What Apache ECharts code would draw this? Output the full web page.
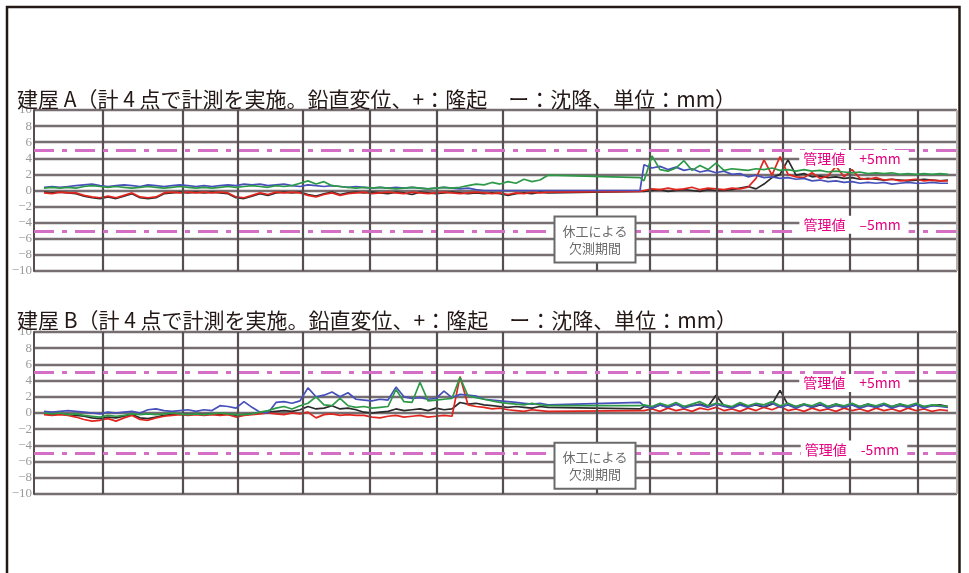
<!DOCTYPE html>
<html><head><meta charset="utf-8">
<script src="https://cdn.jsdelivr.net/npm/echarts@6/dist/echarts.min.js"></script>
<style>html,body{margin:0;padding:0;background:#fff}#c{width:969px;height:573px}</style>
</head><body><div id="c"></div>
<script>
// ---- data (sample days on a common time axis; 303 = last point of the gap) ----
const days = [5,9,13,17,21,25,29,33,37,41,
  45,49,53,57,61,65,69,73,77,81,
  85,89,93,97,101,105,109,113,117,121,
  125,129,133,137,141,145,149,153,157,161,
  165,169,173,177,181,185,189,193,197,201,
  205,209,213,217,221,225,229,233,237,241,
  245,249,253,257,
  303,
  305,309,313,317,321,325,329,333,337,341,
  345,349,353,357,361,365,369,373,377,381,
  385,389,393,397,401,405,409,413,417,421,
  425,429,433,437,441,445,449,453,457];

const titleA = '建屋 A（計 4 点で計測を実施。鉛直変位、+：隆起　ー：沈降、単位：mm）';
const titleB = '建屋 B（計 4 点で計測を実施。鉛直変位、+：隆起　ー：沈降、単位：mm）';
const seriesNames = ['点1', '点2', '点3', '点4'];

// 建屋A
const aBlack = [-0.2,-0.3,-0.2,-0.3,-0.4,-0.7,-0.9,-1.0,-0.8,-1.0,
  -0.7,-0.4,-0.9,-1.0,-0.9,-0.4,-0.3,-0.2,-0.3,-0.2,
  -0.3,-0.2,-0.3,-0.4,-0.9,-1.0,-0.7,-0.4,-0.6,-0.3,
  -0.2,-0.3,-0.2,-0.5,-0.7,-0.4,-0.2,-0.5,-0.3,-0.2,
  -0.3,-0.2,-0.3,-0.4,-0.2,-0.3,-0.5,-0.2,-0.3,-0.4,
  -0.3,-0.2,-0.3,-0.4,-0.3,-0.4,-0.3,-0.4,-0.6,-0.4,
  -0.3,-0.4,-0.2,-0.3,
  -0.1,
  -0.1,0.0,0.1,-0.1,0.0,0.1,0.0,-0.1,0.1,0.0,
  0.0,0.1,0.3,0.5,0.2,0.8,1.6,2.0,3.8,1.9,
  2.1,1.7,1.8,1.6,1.7,1.5,1.6,1.4,1.5,1.4,
  1.3,1.4,1.3,1.2,1.3,1.4,1.3,1.2,1.3];
const aRed = [-0.3,-0.4,-0.2,-0.3,-0.3,-0.6,-0.8,-0.9,-0.7,-0.9,
  -0.6,-0.3,-0.8,-0.9,-0.8,-0.3,-0.2,-0.3,-0.2,-0.3,
  -0.2,-0.3,-0.2,-0.3,-0.8,-0.9,-0.6,-0.3,-0.5,-0.2,
  -0.3,-0.2,-0.3,-0.6,-0.8,-0.5,-0.3,-0.6,-0.4,-0.3,
  -0.2,-0.4,-0.3,-0.2,-0.3,-0.4,-0.2,-0.3,-0.4,-0.3,
  -0.2,-0.3,-0.4,-0.3,-0.2,-0.3,-0.4,-0.3,-0.5,-0.3,
  -0.4,-0.2,-0.3,-0.2,
  -0.1,
  0.0,0.2,0.1,0.3,0.1,0.2,0.4,0.1,0.3,0.2,
  0.1,0.3,0.2,0.4,1.5,3.8,1.9,4.2,2.0,1.7,
  1.6,2.2,1.5,1.8,3.0,1.7,2.6,1.5,1.4,1.6,
  1.3,1.4,1.2,1.3,1.4,1.2,1.3,1.2,1.2];
const aBlue = [0.4,0.5,0.4,0.5,0.6,0.7,0.8,0.6,0.5,0.6,
  0.7,0.6,0.5,0.7,0.6,0.5,0.6,0.7,0.6,0.5,
  0.6,0.5,0.6,0.7,0.6,0.8,0.7,0.8,0.6,0.7,
  0.8,0.6,0.5,0.7,0.6,0.5,0.6,0.5,0.4,0.5,
  0.4,0.3,0.4,0.3,0.4,0.3,0.4,0.3,0.2,0.3,
  0.4,0.3,0.2,0.3,0.1,0.0,0.0,0.0,0.0,0.0,
  0.0,0.0,0.0,0.0,
  0.0,
  3.2,2.8,3.0,2.6,2.9,2.5,2.7,2.3,2.5,2.2,
  2.4,2.0,2.1,1.7,1.9,1.6,1.7,1.5,1.6,1.4,
  1.5,1.2,1.3,1.1,1.2,1.0,1.1,0.9,1.0,0.9,
  1.0,0.8,0.9,1.0,0.9,0.9,1.0,0.9,0.9];
const aGreen = [0.3,0.4,0.3,0.4,0.3,0.5,0.6,0.5,0.4,0.5,
  0.4,0.3,0.4,0.5,0.4,0.3,0.4,0.5,0.4,0.3,
  0.4,0.3,0.4,0.5,0.4,0.5,0.6,0.5,0.4,0.6,
  0.5,0.6,0.9,1.2,0.8,1.1,0.6,0.5,0.4,0.3,
  0.4,0.3,0.4,0.3,0.2,0.3,0.4,0.3,0.2,0.3,
  0.4,0.3,0.4,0.6,0.8,0.7,1.0,0.8,1.1,0.9,
  1.4,1.1,1.3,1.9,
  1.6,
  1.2,4.3,2.6,2.4,2.8,3.7,2.5,3.1,2.6,3.4,
  2.5,2.7,2.6,2.5,2.7,2.6,2.8,2.5,2.6,2.4,
  2.6,2.4,2.5,2.3,2.4,2.3,2.2,2.3,2.1,2.2,
  2.1,2.2,2.0,2.1,2.0,2.1,2.0,2.1,2.0];

// 建屋B
const bBlack = [-0.1,-0.2,-0.1,-0.2,-0.3,-0.4,-0.6,-0.7,-0.5,-0.6,
  -0.4,-0.2,-0.6,-0.7,-0.5,-0.3,-0.2,-0.1,-0.2,-0.1,
  -0.2,-0.1,-0.2,-0.1,-0.3,-0.2,-0.1,0.0,0.1,0.2,
  0.3,0.2,0.4,0.8,0.5,0.6,0.9,0.5,0.6,0.4,
  0.1,0.0,0.1,0.2,0.5,0.3,0.4,0.5,0.3,0.6,
  0.4,0.5,1.3,1.1,1.2,1.0,0.9,0.8,0.7,0.8,
  0.7,0.6,0.8,0.7,
  0.5,
  0.8,0.6,1.0,0.7,1.1,0.8,0.9,1.1,0.8,2.2,
  0.9,0.7,1.1,0.8,1.0,0.7,1.1,2.8,1.0,0.8,
  1.1,0.7,1.0,0.8,1.1,0.7,1.0,0.8,1.1,0.7,
  1.0,0.8,1.1,0.7,1.0,0.8,0.9,1.0,0.8];
const bRed = [-0.2,-0.3,-0.2,-0.3,-0.5,-0.8,-1.0,-0.9,-0.7,-1.0,
  -0.6,-0.3,-0.8,-0.9,-0.6,-0.4,-0.3,-0.2,-0.3,-0.2,
  -0.3,-0.2,-0.3,-0.2,-0.5,-0.3,-0.2,-0.1,0.0,-0.1,
  -0.2,0.0,-0.1,0.1,-0.6,-0.2,-0.1,-0.3,-0.2,-0.3,
  -0.3,-0.5,-0.6,-0.4,-0.3,-0.5,-0.4,-0.3,-0.5,-0.4,
  -0.3,-0.4,4.5,1.0,0.8,0.7,0.5,0.6,0.4,0.3,
  0.2,0.4,0.3,0.2,
  0.3,
  0.3,0.5,0.2,0.6,0.3,0.5,0.2,0.6,0.4,0.7,
  0.3,0.5,0.2,0.6,0.3,0.7,0.4,0.8,0.3,0.5,
  0.2,0.6,0.3,0.5,0.2,0.6,0.3,0.5,0.2,0.6,
  0.3,0.5,0.2,0.6,0.3,0.5,0.2,0.4,0.3];
const bBlue = [0.2,0.1,0.2,0.3,0.2,0.1,0.0,-0.1,0.1,0.0,
  0.1,0.2,0.0,0.4,0.5,0.3,0.2,0.3,0.4,0.2,
  0.4,0.3,0.9,0.8,0.6,1.4,0.7,0.1,0.0,1.3,
  1.4,1.2,1.5,3.1,2.0,2.2,2.6,2.0,2.5,1.7,
  1.6,1.5,1.7,1.6,3.2,2.0,1.8,1.9,1.7,1.8,
  2.7,1.9,2.3,2.2,2.1,1.7,1.6,1.5,1.4,1.3,
  1.2,1.1,1.2,1.0,
  1.3,
  0.9,0.6,1.0,0.7,1.1,0.6,0.9,1.0,0.7,1.1,
  0.8,0.6,1.0,0.7,1.1,0.8,1.2,0.7,1.0,0.6,
  1.0,0.7,1.1,0.6,0.9,0.7,1.0,0.6,0.9,0.7,
  1.0,0.6,0.9,0.7,1.0,0.6,0.9,0.8,0.7];
const bGreen = [0.0,-0.1,0.0,-0.2,-0.1,-0.3,-0.4,-0.5,-0.3,-0.4,
  -0.3,-0.1,-0.2,-0.1,-0.2,-0.1,0.0,-0.1,-0.2,-0.1,
  -0.2,-0.1,0.0,-0.1,-0.2,-0.2,-0.1,0.1,0.3,0.6,
  0.8,0.5,0.9,1.2,2.0,1.0,0.9,1.8,0.9,0.7,
  0.8,0.6,0.7,0.8,2.9,1.4,1.3,3.8,1.5,1.6,
  1.7,1.8,4.4,2.1,1.9,1.7,1.5,1.3,1.2,1.1,
  1.0,1.2,1.0,0.9,
  0.9,
  1.0,0.8,1.2,0.9,1.3,0.8,1.1,1.4,0.9,1.2,
  1.0,0.8,1.3,0.9,1.2,1.0,1.4,0.9,1.2,0.8,
  1.1,0.9,1.3,0.8,1.1,0.9,1.2,0.8,1.1,0.9,
  1.2,0.8,1.1,0.9,1.2,0.8,1.0,0.9,0.8];

const limitValues = [5, -5];
const limitLabelsA = ['管理値　+5mm', '管理値　–5mm'];
const limitLabelsB = ['管理値　+5mm', '管理値　-5mm'];
const gapNote = '休工による\n欠測期間';
const vGridDays = [34.5,74.5,102,134.5,168,201.5,234.5,281.5,308,341.5,374.5,408,442];
const xMax = 461.5;
const yMin = -10, yMax = 10, yStep = 2;

// ---- chart ----
const colors = ['#2b2b2b', '#e0261f', '#4650b8', '#2e9a48'];
const chart = echarts.init(document.getElementById('c'), null, {renderer: 'canvas'});

function panelSeries(gi, vals, labels, labelY, boxY) {
  const out = [];
  out.push({
    type: 'line', xAxisIndex: gi, yAxisIndex: gi, data: [], z: 1, silent: true,
    markLine: {
      silent: true, symbol: 'none', label: {show: false}, animation: false,
      lineStyle: {color: '#564e50', width: 2.2, type: 'solid'},
      data: vGridDays.map(d => ({xAxis: d})).concat([{xAxis: xMax, lineStyle: {color: '#b5b0b1', width: 2, type: 'solid'}}])
    }
  });
  vals.forEach((v, k) => {
    out.push({
      name: seriesNames[k], type: 'line', xAxisIndex: gi, yAxisIndex: gi,
      data: days.map((d, i) => [d, v[i]]), showSymbol: false, z: 3 + k,
      lineStyle: {color: colors[k], width: 1.7}, itemStyle: {color: colors[k]}
    });
  });
  out.push({
    type: 'line', xAxisIndex: gi, yAxisIndex: gi, data: [], z: 8, silent: true,
    markLine: {
      silent: true, symbol: 'none', label: {show: false}, animation: false,
      lineStyle: {color: '#d56fc6', width: 3, type: [20, 8, 5, 8]},
      data: limitValues.map(v => ({yAxis: v}))
    },
    markPoint: {
      silent: true, animation: false, symbol: 'rect', symbolSize: 1,
      itemStyle: {color: 'rgba(0,0,0,0)'},
      data: [
        {coord: [410, labelY[0]], name: labels[0], label: {formatter: labels[0]}},
        {coord: [410, labelY[1]], name: labels[1], label: {formatter: labels[1]}},
        {coord: [280.5, boxY], name: 'gap', label: {
          formatter: gapNote, color: '#6a6a6a', fontSize: 13, lineHeight: 17,
          backgroundColor: '#fff', borderColor: '#6a6a6a', borderWidth: 2,
          padding: [5, 7], align: 'center'
        }}
      ],
      label: {
        show: true, position: 'inside', color: '#e4007f', fontSize: 14,
        fontFamily: 'Noto Sans CJK JP', backgroundColor: '#fff', padding: [2, 8, 2, 4]
      }
    }
  });
  return out;
}

const option = {
  animation: false,
  backgroundColor: '#ffffff',
  textStyle: {fontFamily: 'Noto Sans CJK JP'},
  title: [
    {text: titleA, left: 17, top: 89, padding: 0, textStyle: {fontSize: 21, fontWeight: 'normal', color: '#231815', fontFamily: 'Noto Sans CJK JP'}},
    {text: titleB, left: 17, top: 310, padding: 0, textStyle: {fontSize: 21, fontWeight: 'normal', color: '#231815', fontFamily: 'Noto Sans CJK JP'}}
  ],
  grid: [
    {left: 34, right: 12, top: 110, height: 161},
    {left: 34, right: 12, top: 332, height: 162}
  ],
  xAxis: [0, 1].map(i => ({
    gridIndex: i, type: 'value', min: 0, max: xMax,
    axisLabel: {show: false}, axisTick: {show: false}, splitLine: {show: false}, axisLine: {show: false}
  })),
  yAxis: [0, 1].map(i => ({
    gridIndex: i, type: 'value', min: yMin, max: yMax, interval: yStep,
    axisLine: {show: true, lineStyle: {color: '#564e50', width: 2}},
    axisTick: {show: false},
    axisLabel: {color: '#9a9a9a', fontSize: 13, fontFamily: 'Liberation Serif', margin: 2,
      formatter: v => String(v).replace('-', '−')},
    splitLine: {show: true, lineStyle: {color: '#766e70', width: 2.3}}
  })),
  graphic: [{
    type: 'polyline', silent: true, z: 100,
    shape: {points: [[7, 573], [7, 7], [959.5, 7], [959.5, 573]]},
    style: {stroke: '#231815', lineWidth: 2.5, fill: null}
  }],
  series: [].concat(
    panelSeries(0, [aBlack, aRed, aBlue, aGreen], limitLabelsA, [3.9, -4.25], -6.1),
    panelSeries(1, [bBlack, bRed, bBlue, bGreen], limitLabelsB, [3.7, -4.5], -6.5)
  )
};
chart.setOption(option);
</script>
</body></html>
